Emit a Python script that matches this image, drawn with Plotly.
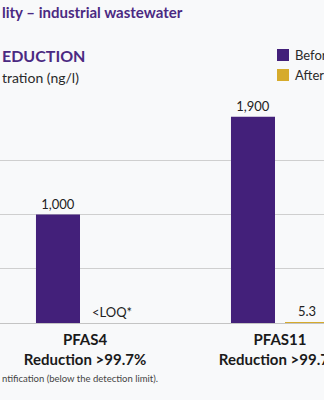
import plotly.graph_objects as go

# PFAS concentrations in industrial wastewater, before and after treatment
categories = ["PFAS4", "PFAS11"]
reduction_labels = ["Reduction >99.7%", "Reduction >99.7%"]
before_values = [1000, 1900]
after_values = [0, 5.3]
before_text = ["1,000", "1,900"]
after_text = ["<LOQ*", "5.3"]
legend_names = ["Before", "After S"]

PURPLE = "#43207a"
GOLD = "#d6ab2c"
BG = "#f8f9fa"
FONT = "Lato"

tick_text = [f"<b>{c}</b><br><b>{r}</b>" for c, r in zip(categories, reduction_labels)]

fig = go.Figure()
fig.add_trace(go.Bar(
    x=categories, y=before_values, name=legend_names[0],
    marker=dict(color=PURPLE, line=dict(width=0)),
    text=before_text, textposition="outside", cliponaxis=False,
    textfont=dict(family=FONT, size=13, color="#222222"),
))
fig.add_trace(go.Bar(
    x=categories, y=after_values, name=legend_names[1],
    marker=dict(color=GOLD, line=dict(width=0)),
    text=after_text, textposition="outside", cliponaxis=False,
    textfont=dict(family=FONT, size=13, color="#222222"),
))

fig.update_layout(
    width=324, height=400,
    margin=dict(l=0, r=0, t=106, b=77, autoexpand=False),
    paper_bgcolor=BG, plot_bgcolor=BG,
    barmode="group", bargap=0.446, bargroupgap=0.185,
    showlegend=False,
    font=dict(family=FONT, color="#222222"),
    xaxis=dict(
        type="category", range=[-85 / 195, (324 - 85) / 195],
        tickvals=categories, ticktext=tick_text,
        tickfont=dict(family=FONT, size=15, color="#1a1a1a"),
        ticks="", showgrid=False, zeroline=False,
        showline=True, linecolor="#c4c4c4", linewidth=1,
        ticklabelstandoff=3,
    ),
    yaxis=dict(
        range=[0, 2000], dtick=500, showticklabels=False,
        showgrid=True, gridcolor="#cfcfcf", gridwidth=1,
        zeroline=False, showline=False,
    ),
)

# headings and footnote, positioned by pixel row on the page
fig.add_annotation(x=0, y=12, text="<b>lity – industrial wastewater</b>",
                   font=dict(family=FONT, size=15, color="#4b2a82"))
fig.add_annotation(x=0, y=55, text="<b>EDUCTION</b>",
                   font=dict(family=FONT, size=16, color="#4b2a82"))
fig.add_annotation(x=0, y=78, text="tration (ng/l)",
                   font=dict(family=FONT, size=14, color="#2a2a2a"))
fig.add_annotation(x=0, y=378, text="ntification (below the detection limit).",
                   font=dict(family=FONT, size=9.5, color="#444444"))

# convert pixel rows of the page to paper coordinates
plot_top, plot_h = 106, 400 - 106 - 77
for ann in fig.layout.annotations:
    ann.y = (plot_top + plot_h - ann.y) / plot_h
    ann.xref = "paper"
    ann.yref = "paper"
    ann.showarrow = False
    ann.xanchor = "left"
    ann.yanchor = "middle"

# legend swatches
for i, (name, color) in enumerate(zip(legend_names, [PURPLE, GOLD])):
    yc = 55 + i * 20
    y0 = (plot_top + plot_h - (yc + 6)) / plot_h
    y1 = (plot_top + plot_h - (yc - 6)) / plot_h
    fig.add_shape(type="rect", xref="paper", yref="paper",
                  x0=277 / 324, x1=289 / 324, y0=y0, y1=y1,
                  fillcolor=color, line=dict(width=0))
    fig.add_annotation(x=293 / 324, y=(plot_top + plot_h - yc) / plot_h,
                       xref="paper", yref="paper", text=name, showarrow=False,
                       xanchor="left", yanchor="middle",
                       font=dict(family=FONT, size=13, color="#2a2a2a"))

fig.write_html("out.html")
